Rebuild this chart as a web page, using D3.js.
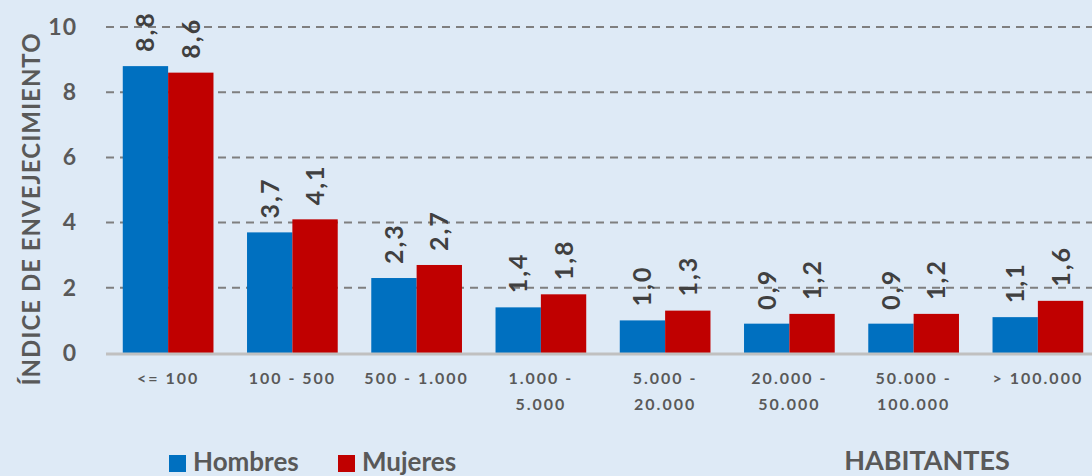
<!DOCTYPE html>
<html>
<head>
<meta charset="utf-8">
<script src="https://cdn.jsdelivr.net/npm/d3@7"></script>
<style>
  body { margin: 0; background: #deeaf6; }
  svg { display: block; font-family: Lato, "Open Sans", sans-serif; font-weight: bold; }
</style>
</head>
<body>
<script>
// data
const categories = [['<= 100'], ['100 - 500'], ['500 - 1.000'], ['1.000 -', '5.000'],
  ['5.000 -', '20.000'], ['20.000 -', '50.000'], ['50.000 -', '100.000'], ['> 100.000']];
const hombres = [8.8, 3.7, 2.3, 1.4, 1.0, 0.9, 0.9, 1.1];
const mujeres = [8.6, 4.1, 2.7, 1.8, 1.3, 1.2, 1.2, 1.6];
const yTicks = [0, 2, 4, 6, 8, 10];
const seriesNames = ['Hombres', 'Mujeres'];
const colors = ['#0070c0', '#c00000'];

const W = 1092, H = 476;
const margin = { top: 27, left: 106, bottom: 123 };
const plotRight = 1100;
const y0 = H - margin.bottom;

const svg = d3.select('body').append('svg')
  .attr('width', W)
  .attr('height', H);

svg.append('rect').attr('width', W).attr('height', H).attr('fill', '#deeaf6');

const x = d3.scaleBand()
  .domain(d3.range(categories.length))
  .range([margin.left, plotRight])
  .paddingInner(0.27)
  .paddingOuter(0.135);

const xs = d3.scaleBand().domain([0, 1]).range([0, x.bandwidth()]);

const y = d3.scaleLinear().domain([0, 10]).range([y0, margin.top]);

// gridlines
svg.append('g')
  .selectAll('line')
  .data(yTicks.filter(d => d > 0))
  .join('line')
  .attr('x1', margin.left).attr('x2', W)
  .attr('y1', d => y(d)).attr('y2', d => y(d))
  .attr('stroke', '#7f7f7f')
  .attr('stroke-width', 2)
  .attr('stroke-dasharray', '8,6');

// y axis labels
const yAxis = svg.append('g')
  .attr('transform', `translate(${margin.left},0)`)
  .call(d3.axisLeft(y).tickValues(yTicks).tickSize(0).tickPadding(29));
yAxis.select('.domain').remove();
yAxis.selectAll('text')
  .attr('fill', '#595959')
  .style('font-size', '23px')
  .style('letter-spacing', '1px')
  .style('font-family', 'Lato, sans-serif')
  .style('font-weight', 'bold');

// bars
const series = [hombres, mujeres];
series.forEach((vals, si) => {
  const g = svg.append('g');
  g.selectAll('rect')
    .data(vals)
    .join('rect')
    .attr('x', (d, i) => x(i) + xs(si))
    .attr('y', d => y(d))
    .attr('width', xs.bandwidth())
    .attr('height', d => y0 - y(d))
    .attr('fill', colors[si]);

  g.selectAll('text')
    .data(vals)
    .join('text')
    .attr('transform', (d, i) => `translate(${x(i) + xs(si) + xs.bandwidth() / 2 + 9},${y(d) - 14}) rotate(-90)`)
    .attr('text-anchor', 'start')
    .attr('fill', '#404040')
    .style('font-size', '25px')
    .style('letter-spacing', '2px')
    .text(d => d3.format('.1f')(d).replace('.', ','));
});

// baseline
svg.append('line')
  .attr('x1', margin.left).attr('x2', W)
  .attr('y1', y0 + 1).attr('y2', y0 + 1)
  .attr('stroke', '#c0c0c0')
  .attr('stroke-width', 3);

// category labels
const cat = svg.append('g')
  .selectAll('text')
  .data(categories)
  .join('text')
  .attr('x', (d, i) => x(i) + x.bandwidth() / 2)
  .attr('y', y0 + 31)
  .attr('text-anchor', 'middle')
  .attr('fill', '#595959')
  .style('font-size', '16px')
  .style('letter-spacing', '2px');
cat.selectAll('tspan')
  .data(d => d)
  .join('tspan')
  .attr('x', function () { return this.parentNode.getAttribute('x'); })
  .attr('dy', (d, i) => i === 0 ? 0 : 26)
  .text(d => d);

// y axis title
svg.append('text')
  .attr('transform', `translate(40,${(y0 + margin.top) / 2 + 19}) rotate(-90)`)
  .attr('text-anchor', 'middle')
  .attr('fill', '#595959')
  .style('font-size', '24px')
  .style('letter-spacing', '1px')
  .text('ÍNDICE DE ENVEJECIMIENTO');

// legend
const legend = svg.append('g');
const legendX = [169, 338];
seriesNames.forEach((name, i) => {
  legend.append('rect')
    .attr('x', legendX[i]).attr('y', 455)
    .attr('width', 17).attr('height', 17)
    .attr('fill', colors[i]);
  legend.append('text')
    .attr('x', legendX[i] + 24).attr('y', 471)
    .attr('fill', '#595959')
    .style('font-size', '26px')
    .text(name);
});

svg.append('text')
  .attr('x', 927).attr('y', 470)
  .attr('text-anchor', 'middle')
  .attr('fill', '#595959')
  .style('font-size', '27px')
  .text('HABITANTES');
</script>
</body>
</html>
